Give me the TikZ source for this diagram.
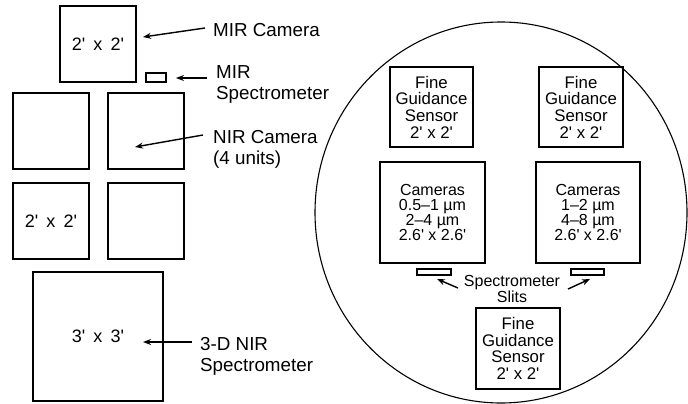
\documentclass[tikz,border=0pt]{standalone}
\usepackage{fontspec}
\setmainfont{Liberation Sans}[Ligatures=TeXOff]
\usetikzlibrary{arrows.meta,shapes.geometric}
\newcommand{\wsp}{\hspace{0.45em}}
\begin{document}
\begin{tikzpicture}[x=1pt,y=-1pt,
  box/.style={draw,line width=1.3pt,inner sep=0pt,align=center},
  lbl/.style={anchor=north west,inner sep=0pt,align=left,font=\fontsize{18.8}{21}\selectfont},
  fgsbox/.style={box,font=\fontsize{16.8}{16.7}\selectfont},
  cambox/.style={box,font=\fontsize{16}{15.3}\selectfont},
  dimtxt/.style={font=\fontsize{18}{20}\selectfont},
  arr/.style={line width=1.4pt,-{Stealth[length=8pt,width=6pt]}}]
\useasboundingbox (0,0) rectangle (688,404);
% left group
\node[box,dimtxt,minimum width=76pt,minimum height=76pt] (mir) at (98,44) {2'\wsp x\wsp 2'};
\node[box,minimum width=20pt,minimum height=9pt] (mirspec) at (156,77.5) {};
\node[box,minimum width=76pt,minimum height=76pt] (nir1) at (51,131) {};
\node[box,minimum width=76pt,minimum height=76pt] (nir2) at (146,131) {};
\node[box,dimtxt,minimum width=76pt,minimum height=76pt] (nir3) at (51,221) {2'\wsp x\wsp 2'};
\node[box,minimum width=76pt,minimum height=76pt] (nir4) at (146,221) {};
\node[box,dimtxt,minimum width=130pt,minimum height=129pt] (nirspec) at (98,336.5) {3'\wsp x\wsp 3'};
% labels
\node[lbl] (lmircam) at (213,23.5) {MIR Camera};
\node[lbl] (lmirspec) at (216,65) {MIR\\Spectrometer};
\node[lbl] (lnircam) at (213,130) {NIR Camera\\(4 units)};
\node[lbl] (lnirspec) at (200,337) {3-D NIR\\Spectrometer};
% arrow ends
\coordinate (a1s) at (205,28); \coordinate (a1e) at (143,37);
\coordinate (a2s) at (207,78); \coordinate (a2e) at (176,78);
\coordinate (a3s) at (203,135); \coordinate (a3e) at (135,147);
\coordinate (a4s) at (192,342); \coordinate (a4e) at (143,342);
\draw[arr] (a1s) -- (a1e);
\draw[arr] (a2s) -- (a2e);
\draw[arr] (a3s) -- (a3e);
\draw[arr] (a4s) -- (a4e);
% field of view
\node[draw,ellipse,line width=1.1pt,inner sep=0pt,minimum width=372pt,minimum height=381pt] (fov) at (501,212.5) {};
\node[fgsbox,minimum width=83pt,minimum height=80pt] (fgs1) at (431.5,107) {Fine\\Guidance\\Sensor\\2'\ x\ 2'};
\node[fgsbox,minimum width=84pt,minimum height=80pt] (fgs2) at (581,107) {Fine\\Guidance\\Sensor\\2'\ x\ 2'};
\node[cambox,minimum width=105pt,minimum height=101pt] (cam1) at (432.5,212.5) {Cameras\\0.5–1 µm\\2–4 µm\\2.6'\ x\ 2.6'};
\node[cambox,minimum width=104pt,minimum height=101pt] (cam2) at (588,212.5) {Cameras\\1–2 µm\\4–8 µm\\2.6'\ x\ 2.6'};
\node[box,line width=1.1pt,minimum width=34pt,minimum height=6pt] (slit1) at (434,272) {};
\node[box,line width=1.1pt,minimum width=33pt,minimum height=6pt] (slit2) at (587.5,272) {};
\node[fgsbox,minimum width=84pt,minimum height=81pt] (fgs3) at (518,348.5) {Fine\\Guidance\\Sensor\\2'\ x\ 2'};
\node[anchor=north,inner sep=0pt,align=center,font=\fontsize{16}{15.7}\selectfont] (lslits) at (512,275) {Spectrometer\\Slits};
\coordinate (a5s) at (458,288); \coordinate (a5e) at (437,279);
\coordinate (a6s) at (568,289); \coordinate (a6e) at (590,279);
\draw[arr] (a5s) -- (a5e);
\draw[arr] (a6s) -- (a6e);
\end{tikzpicture}
\end{document}
